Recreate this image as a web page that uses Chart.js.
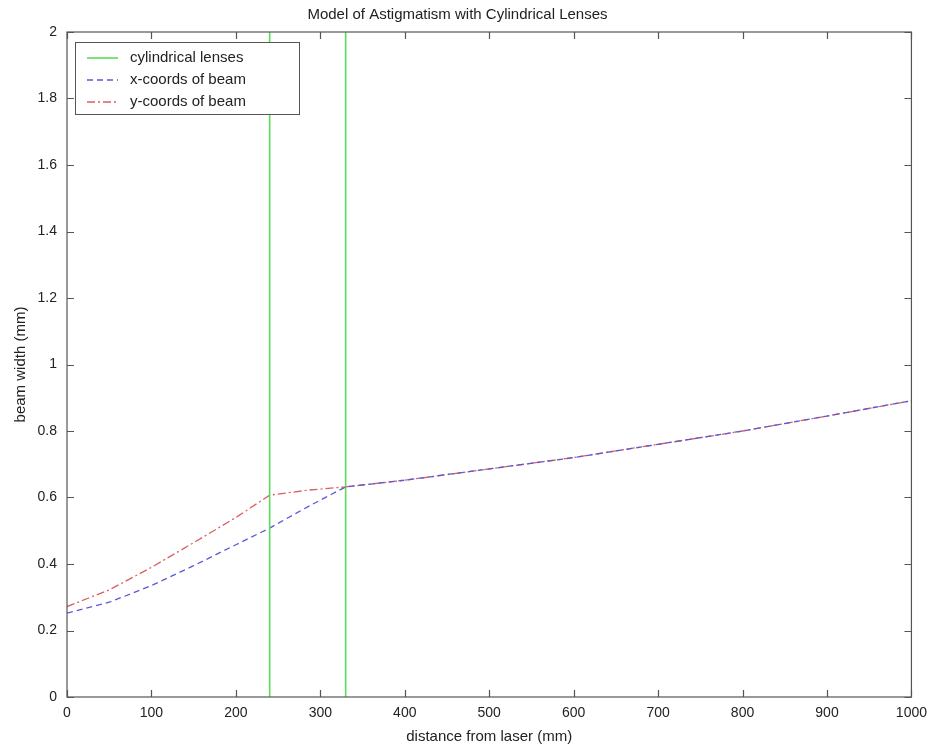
<!DOCTYPE html>
<html>
<head>
<meta charset="utf-8">
<script src="https://cdn.jsdelivr.net/npm/chart.js@4/dist/chart.umd.min.js"></script>
<style>
  html, body { margin: 0; padding: 0; background: #fff; }
  #wrap { width: 935px; height: 753px; }
</style>
</head>
<body>
<div id="wrap"><canvas id="chart" width="935" height="753"></canvas></div>
<script>
// distances along the beam (mm) and beam widths (mm)
const beamDistance = [0, 50, 100, 150, 200, 240, 285, 330, 400, 500, 600, 700, 800, 900, 1000];
const xBeam = [0.252, 0.285, 0.335, 0.395, 0.458, 0.508, 0.572, 0.632, 0.652, 0.686, 0.720, 0.760, 0.800, 0.845, 0.891];
const yBeam = [0.272, 0.322, 0.390, 0.464, 0.540, 0.607, 0.622, 0.632, 0.652, 0.686, 0.720, 0.760, 0.800, 0.845, 0.891];
const lensPositions = [240, 330];
const lensSpan = [0, 2];
const xTicks = [0, 100, 200, 300, 400, 500, 600, 700, 800, 900, 1000];
const yTicks = [0, 0.2, 0.4, 0.6, 0.8, 1, 1.2, 1.4, 1.6, 1.8, 2];

const FONT = "'Liberation Sans', Arial, sans-serif";
const TEXT = "#222";
const AXIS = "#555";
const GREEN = "rgb(90,220,90)";
const BLUE = "rgb(90,90,215)";
const RED = "rgb(220,95,95)";

const toPoints = (xs, ys) => xs.map((x, i) => ({ x, y: ys[i] }));

const lensSets = lensPositions.map((p, i) => ({
  label: i === 0 ? "cylindrical lenses" : "",
  data: lensSpan.map(v => ({ x: p, y: v })),
  borderColor: GREEN,
  borderWidth: 1.6,
  pointRadius: 0,
  tension: 0
}));

// box with inward ticks on all four sides
const boxTicks = {
  id: "boxTicks",
  afterDraw(chart) {
    const { ctx, chartArea: a, scales } = chart;
    const len = 7;
    ctx.save();
    ctx.strokeStyle = AXIS;
    ctx.lineWidth = 1.2;
    ctx.strokeRect(a.left, a.top, a.right - a.left, a.bottom - a.top);
    ctx.beginPath();
    scales.x.ticks.forEach(t => {
      const px = Math.round(scales.x.getPixelForValue(t.value)) + 0.5;
      ctx.moveTo(px, a.bottom); ctx.lineTo(px, a.bottom - len);
      ctx.moveTo(px, a.top); ctx.lineTo(px, a.top + len);
    });
    scales.y.ticks.forEach(t => {
      const py = Math.round(scales.y.getPixelForValue(t.value)) + 0.5;
      ctx.moveTo(a.left, py); ctx.lineTo(a.left + len, py);
      ctx.moveTo(a.right, py); ctx.lineTo(a.right - len, py);
    });
    ctx.stroke();
    ctx.restore();
  }
};

// legend box in the upper-left corner of the plot
const innerLegend = {
  id: "innerLegend",
  afterDraw(chart) {
    const { ctx } = chart;
    const items = chart.data.datasets.filter(d => d.label);
    const x0 = 75, y0 = 42, w = 224, h = 72;
    ctx.save();
    ctx.fillStyle = "#fff";
    ctx.fillRect(x0, y0, w, h);
    ctx.strokeStyle = AXIS;
    ctx.lineWidth = 1;
    ctx.strokeRect(x0 + 0.5, y0 + 0.5, w, h);
    ctx.font = "15px " + FONT;
    ctx.textBaseline = "middle";
    items.forEach((d, i) => {
      const y = y0 + 16 + i * 22;
      ctx.strokeStyle = d.borderColor;
      ctx.lineWidth = d.borderWidth;
      ctx.setLineDash(d.borderDash || []);
      ctx.beginPath();
      ctx.moveTo(x0 + 12, y);
      ctx.lineTo(x0 + 43, y);
      ctx.stroke();
      ctx.setLineDash([]);
      ctx.fillStyle = TEXT;
      ctx.fillText(d.label, x0 + 55, y);
    });
    ctx.restore();
  }
};

new Chart(document.getElementById("chart"), {
  type: "line",
  data: {
    datasets: [
      lensSets[0],
      {
        label: "x-coords of beam",
        data: toPoints(beamDistance, xBeam),
        borderColor: BLUE,
        borderWidth: 1.3,
        borderDash: [6, 4],
        pointRadius: 0,
        tension: 0
      },
      {
        label: "y-coords of beam",
        data: toPoints(beamDistance, yBeam),
        borderColor: RED,
        borderWidth: 1.3,
        borderDash: [8, 3, 2, 3],
        pointRadius: 0,
        tension: 0
      },
      lensSets[1]
    ]
  },
  options: {
    responsive: false,
    animation: false,
    layout: { padding: { right: 20, left: 0, bottom: 0, top: 0 } },
    plugins: {
      legend: { display: false },
      tooltip: { enabled: false },
      title: {
        display: true,
        text: "Model of Astigmatism with Cylindrical Lenses",
        color: TEXT,
        font: { family: FONT, size: 15, weight: "normal" },
        padding: { top: 6, bottom: 8 }
      }
    },
    scales: {
      x: {
        type: "linear",
        min: 0,
        max: 1000,
        afterBuildTicks: s => { s.ticks = xTicks.map(v => ({ value: v })); },
        afterFit: s => { s.height = 56; },
        grid: { display: false, drawTicks: false },
        border: { display: false },
        ticks: {
          color: TEXT, font: { family: FONT, size: 14 }, padding: 8, maxRotation: 0,
          callback: v => String(v)
        },
        title: {
          display: true,
          text: "distance from laser (mm)",
          color: TEXT,
          font: { family: FONT, size: 15 },
          padding: { top: 0, bottom: 7 }
        }
      },
      y: {
        type: "linear",
        min: 0,
        max: 2,
        afterBuildTicks: s => { s.ticks = yTicks.map(v => ({ value: v })); },
        afterFit: s => { s.width = 67; },
        grid: { display: false, drawTicks: false },
        border: { display: false },
        ticks: {
          color: TEXT, font: { family: FONT, size: 14 }, padding: 10,
          callback: v => String(Math.round(v * 10) / 10)
        },
        title: {
          display: true,
          text: "beam width (mm)",
          color: TEXT,
          font: { family: FONT, size: 15 },
          padding: { top: 12, bottom: 0 }
        }
      }
    }
  },
  plugins: [boxTicks, innerLegend]
});
</script>
</body>
</html>
